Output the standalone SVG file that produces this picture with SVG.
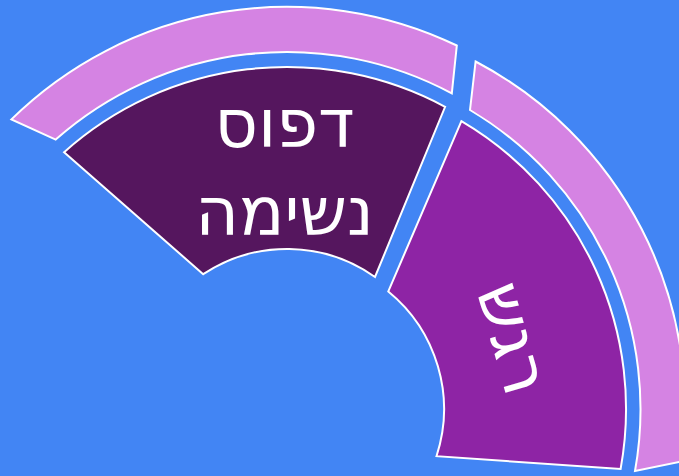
<svg xmlns="http://www.w3.org/2000/svg" width="679" height="476" viewBox="0 0 679 476">
<style>
.seg{stroke:#ffffff;stroke-width:2;stroke-linejoin:miter}
.lbl{fill:#ffffff;font-family:"DejaVu Sans","Noto Sans",sans-serif;font-size:67px;text-anchor:middle}
</style>
<rect x="0" y="0" width="679" height="476" fill="#4285F4"/>
<g id="breath-pattern-outer">
<path class="seg" fill="#D583E3" d="M 11.4 119.4 A 393 393 0 0 1 456.8 45.5 L 451.8 93.4 A 349 349 0 0 0 55.7 139.6 Z"/>
</g>
<g id="emotion-outer">
<path class="seg" fill="#D583E3" d="M 475.6 61.5 A 392 392 0 0 1 681.5 461.5 L 635 471 A 348 348 0 0 0 470 110 Z"/>
</g>
<g id="breath-pattern">
<path class="seg" fill="#55165E" d="M 64.1 152.2 A 334 334 0 0 1 445.1 106.8 L 375 277 A 152 152 0 0 0 203.2 274.2 Z"/>
<text class="lbl" x="284.5" y="147">דפוס</text>
<text class="lbl" x="284.5" y="235">נשימה</text>
</g>
<g id="emotion">
<path class="seg" fill="#8E24A5" d="M 461.4 121.1 A 334 334 0 0 1 620.6 469 L 436.5 456.2 A 152 152 0 0 0 388.3 291.4 Z"/>
<text class="lbl" transform="translate(510 339) rotate(74)" x="0" y="19">רגש</text>
</g>
<g id="connectors"></g>
</svg>
